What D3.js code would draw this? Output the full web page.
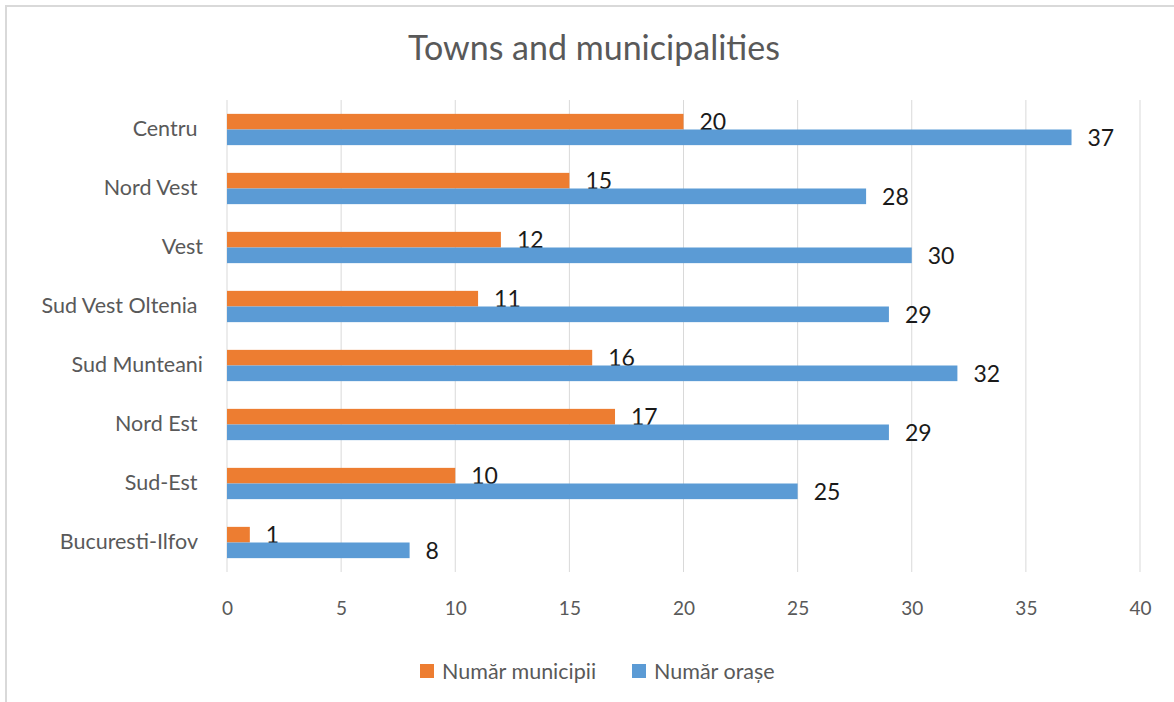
<!DOCTYPE html>
<html><head><meta charset="utf-8">
<script src="https://cdn.jsdelivr.net/npm/d3@7"></script>
<style>html,body{margin:0;padding:0;background:#fff;overflow:hidden}text{white-space:pre}</style>
</head><body>
<svg id="c" width="1174" height="702"></svg>
<script>
const categories = ["Centru ", "Nord Vest ", "Vest", "Sud Vest Oltenia ", "Sud Munteani", "Nord Est ", "Sud-Est ", "Bucuresti-Ilfov "];
const municipii = [20, 15, 12, 11, 16, 17, 10, 1];
const orase = [37, 28, 30, 29, 32, 29, 25, 8];
const seriesNames = ["Număr municipii", "Număr orașe"];
const xTicks = [0, 5, 10, 15, 20, 25, 30, 35, 40];
const title = "Towns and municipalities";

const colors = ["#ed7d31", "#5b9bd5"];
const font = "Lato, 'Open Sans', sans-serif";
const svg = d3.select("#c");
svg.append("rect").attr("x", 6).attr("y", 6).attr("width", 1190).attr("height", 720)
  .attr("fill", "#fff").attr("stroke", "#d9d9d9").attr("stroke-width", 2);

const pLeft = 227, pRight = 1140, pTop = 100, pBottom = 572;
const x = d3.scaleLinear().domain([0, 40]).range([pLeft, pRight]);
const y = d3.scaleBand().domain(categories).range([pTop, pBottom]).paddingInner(0.47).paddingOuter(0.235);
const sub = d3.scaleBand().domain([0, 1]).range([0, y.bandwidth()]);

svg.append("g").selectAll("line").data(xTicks).join("line")
  .attr("x1", d => x(d)).attr("x2", d => x(d)).attr("y1", pTop).attr("y2", pBottom)
  .attr("stroke", "#d9d9d9").attr("stroke-width", 1);

const ax = svg.append("g").attr("transform", `translate(0,${pBottom})`)
  .call(d3.axisBottom(x).tickValues(xTicks).tickSize(0).tickPadding(30));
ax.select(".domain").remove();
ax.selectAll("text").attr("font-family", font).attr("font-size", 19).attr("fill", "#595959");

const ay = svg.append("g").attr("transform", `translate(${pLeft},0)`)
  .call(d3.axisLeft(y).tickSize(0).tickPadding(24));
ay.select(".domain").remove();
ay.selectAll("text").attr("font-family", font).attr("font-size", 21.5).attr("fill", "#595959");

const series = [municipii, orase];
series.forEach((vals, si) => {
  const g = svg.append("g");
  g.selectAll("rect").data(vals).join("rect")
    .attr("x", x(0)).attr("y", (d, i) => y(categories[i]) + sub(si))
    .attr("width", d => x(d) - x(0)).attr("height", sub.bandwidth())
    .attr("fill", colors[si]);
  g.selectAll("text").data(vals).join("text")
    .attr("x", d => x(d) + 16).attr("y", (d, i) => y(categories[i]) + sub(si) + sub.bandwidth() / 2)
    .attr("dy", "0.36em").attr("font-family", font).attr("font-size", 23).attr("fill", "#1a1a1a")
    .text(d => d);
});

svg.append("text").attr("x", 594).attr("y", 60).attr("text-anchor", "middle")
  .attr("font-family", font).attr("font-size", 34).attr("fill", "#595959").text(title);

const lg = svg.append("g");
const legX = [420, 632];
seriesNames.forEach((n, i) => {
  lg.append("rect").attr("x", legX[i]).attr("y", 664).attr("width", 14).attr("height", 14).attr("fill", colors[i]);
  lg.append("text").attr("x", legX[i] + 22).attr("y", 671).attr("dy", "0.36em")
    .attr("font-family", font).attr("font-size", 21.5).attr("fill", "#595959").text(n);
});
</script>
</body></html>
